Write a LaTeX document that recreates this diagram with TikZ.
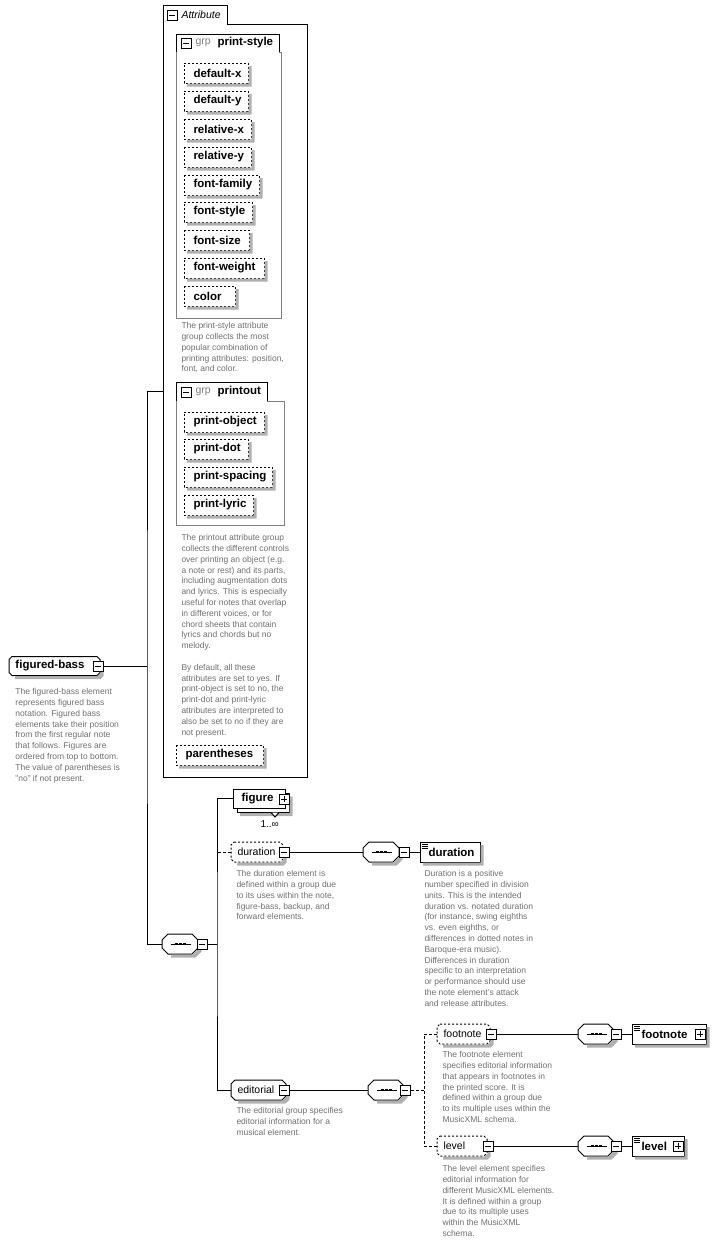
\documentclass[tikz,border=0pt]{standalone}
\usepackage{fontspec}
\setmainfont{Liberation Sans}
\definecolor{descgray}{RGB}{112,112,112}
\definecolor{shgray}{RGB}{176,176,176}
\definecolor{grpgray}{RGB}{128,128,128}
\newcommand\lbf{\bfseries\fontsize{11.5}{13}\selectfont}
\newcommand\lrm{\fontsize{10.5}{12}\selectfont}
\newcommand\dsc{\fontsize{8.5}{10.8}\selectfont}
% outline with cut corners: #1 options, #2 left x, #3 top y, #4 width, #5 height, #6 cut
\newcommand\oct[6]{%
  \path[#1] (#2+#6,#3) -- (#2+#4-#6,#3) -- (#2+#4,#3+#6) -- (#2+#4,#3+#5-#6)
    -- (#2+#4-#6,#3+#5) -- (#2+#6,#3+#5) -- (#2,#3+#5-#6) -- (#2,#3+#6) -- cycle;}
% shadow band outside the right and lower sides: #1 left x, #2 top y, #3 width, #4 height, #5 cut
\newcommand\shd[5]{%
  \fill[shgray] (#1+#3+0.5,#2+3+#5) -- (#1+#3+3.5,#2+3+#5) -- (#1+#3+3.5,#2+#4+3.5-#5)
    -- (#1+#3+3.5-#5,#2+#4+3.5) -- (#1+3+#5,#2+#4+3.5) -- (#1+3+#5,#2+#4+0.5)
    -- (#1+#3+0.5-#5,#2+#4+0.5) -- (#1+#3+0.5,#2+#4+0.5-#5) -- cycle;}
% #1 name, #2 left x, #3 centre y, #4 width, #5 height, #6 cut, #7 extra options, #8 shadow y/n
\newcommand\mkbox[8]{%
  \oct{draw,fill=white,#7}{#2}{#3-#5/2}{#4}{#5}{#6}
  \ifx#8y\shd{#2}{#3-#5/2}{#4}{#5}{#6}\fi
  \node[box,minimum width=#4pt,minimum height=#5pt] (#1) at (#2,#3) {};}
% sequence symbol inside a named node
\newcommand\seqsym[1]{%
  \draw[line width=.9pt] ([xshift=-10pt]#1.center) -- ([xshift=10pt]#1.center);
  \foreach \dx in {-4,0,4} \fill ([xshift=\dx pt-1.3pt,yshift=-1.3pt]#1.center) rectangle ([xshift=\dx pt+1.3pt,yshift=1.3pt]#1.center);}
% element icon
\newcommand\elic[1]{%
  \foreach \k in {2.5,4.5,6.5} \draw[line width=.7pt] ([xshift=2pt,yshift=-\k pt]#1.north west) -- ([xshift=8pt,yshift=-\k pt]#1.north west);}
\tikzset{
  box/.style={rectangle,inner sep=0pt,minimum height=20pt,anchor=west},
  pm/.style={rectangle,draw,solid,fill=white,minimum size=10pt,inner sep=0pt},
  minus/.style={pm,path picture={\draw[line width=.9pt] ([xshift=2pt]path picture bounding box.west) -- ([xshift=-2pt]path picture bounding box.east);}},
  plus/.style={pm,path picture={\draw[line width=.9pt] ([xshift=2pt]path picture bounding box.west) -- ([xshift=-2pt]path picture bounding box.east);
      \draw[line width=.9pt] ([yshift=2pt]path picture bounding box.south) -- ([yshift=-2pt]path picture bounding box.north);}},
  lbl/.style={font=\lbf,inner sep=0pt,anchor=west},
  lbr/.style={font=\lrm,inner sep=0pt,anchor=west},
  desc/.style={font=\dsc,text=descgray,inner sep=0pt,anchor=north west,align=left},
  dsh/.style={dash pattern=on 3pt off 2pt},
  adsh/.style={dash pattern=on 2pt off 2pt}
}
\begin{document}
\begin{tikzpicture}[x=1pt,y=-1pt,line width=1pt]
\useasboundingbox (0,0) rectangle (714,1245);
\fill[white] (0,0) rectangle (714,1245);

% ---------- Attribute container ----------
\draw (227,24) -- (307,24) -- (307,777) -- (163,777) -- (163,5) -- (227,5) -- (227,24);
\node[minus] (attrm) at (172,15) {};
\node[lbr,font=\lrm\itshape] (attrt) at (181,15) {Attribute};

% print-style group
\draw (176,52) -- (176,34) -- (279,34) -- (279,52);
\draw[grpgray] (279,52) -- (281,52) -- (281,318) -- (176,318) -- (176,52);
\node[minus] (psm) at (186,43) {};
\node[lbr,text=grpgray] (psg) at (195,43) {grp};
\node[lbl] (pst) at (217,43) {print-style};
\foreach \n/\t/\y/\w in {dx/default-x/73/64, dy/default-y/101/64, rx/relative-x/129/67, ry/relative-y/157/67,
  ff/font-family/185/75, fs/font-style/212/68, fz/font-size/240/65, fw/font-weight/268/80, co/color/296/51}{
  \mkbox{\n}{184}{\y}{\w}{20}{0}{adsh}{y}
  \node[lbl] (\n-t) at (193,\y) {\t};
}
\node[desc] (psd) at (181,322) {The print-style attribute\\group collects the most\\popular combination of\\printing attributes: position,\\font, and color.};

% printout group
\draw (176,401) -- (176,382) -- (267,382) -- (267,401);
\draw[grpgray] (267,401) -- (284,401) -- (284,525) -- (176,525) -- (176,401);
\node[minus] (pom) at (186,392) {};
\node[lbr,text=grpgray] (pog) at (195,392) {grp};
\node[lbl] (pot) at (217,392) {printout};
\foreach \n/\t/\y/\w in {pob/print-object/422/80, pdt/print-dot/449/64, psp/print-spacing/477/88, ply/print-lyric/505/69}{
  \mkbox{\n}{184}{\y}{\w}{20}{0}{adsh}{y}
  \node[lbl] (\n-t) at (193,\y) {\t};
}
\node[desc] (pod) at (181,534) {The printout attribute group\\collects the different controls\\over printing an object (e.g.\\a note or rest) and its parts,\\including augmentation dots\\and lyrics. This is especially\\useful for notes that overlap\\in different voices, or for\\chord sheets that contain\\lyrics and chords but no\\melody.\\\mbox{}\\By default, all these\\attributes are set to yes. If\\print-object is set to no, the\\print-dot and print-lyric\\attributes are interpreted to\\also be set to no if they are\\not present.};
\mkbox{par}{176}{755}{87}{20}{0}{adsh}{y}
\node[lbl] (par-t) at (185,755) {parentheses};

% ---------- figured-bass ----------
\mkbox{fb}{9}{666}{91}{19}{3}{}{y}
\node[lbl] (fbt) at (15,666) {figured-bass};
\node[minus] (fbm) at (98,666) {};
\node[desc] (fbd) at (15,688) {The figured-bass element\\represents figured bass\\notation. Figured bass\\elements take their position\\from the first regular note\\that follows. Figures are\\ordered from top to bottom.\\The value of parentheses is\\"no" if not present.};

% sequence 1
\mkbox{s1}{162}{944}{36}{20}{6}{}{y}
\seqsym{s1}
\node[minus] (s1m) at (202,944) {};

\coordinate (attrw) at (163,391);
\coordinate (tr) at (147,666);
\draw (fbm.east) -- (tr);
\draw (attrw) -| (tr) |- (s1.west);

% figure
\mkbox{figb}{237}{803}{52}{19}{0}{}{y}
\mkbox{fig}{233}{798.5}{52}{19}{0}{}{n}
\node[lbl] (figt) at (241,798.5) {figure};
\node[plus] (figp) at (284,799) {};
\draw[fill=white] (271,812.5) -- (275,817) -- (279,812.5);
\node[lbr,font=\fontsize{10}{12}\selectfont] (figo) at (260,824) {1..∞};

% duration (optional)
\mkbox{dur}{231}{852}{52}{20}{3}{adsh}{y}
\node[lbr] (durt) at (237,852) {duration};
\node[minus] (durm) at (284,852) {};
\node[desc] (durd) at (236,870) {The duration element is\\defined within a group due\\to its uses within the note,\\figure-bass, backup, and\\forward elements.};

\mkbox{s2}{363}{852}{36}{20}{6}{}{y}
\seqsym{s2}
\node[minus] (s2m) at (404,852) {};
\mkbox{durel}{420}{852}{60}{20}{0}{}{y}
\elic{durel}
\node[lbl] (durelt) at (428,852) {duration};
\node[desc] (dureld) at (424,870) {Duration is a positive\\number specified in division\\units. This is the intended\\duration vs. notated duration\\(for instance, swing eighths\\vs. even eighths, or\\differences in dotted notes in\\Baroque-era music).\\Differences in duration\\specific to an interpretation\\or performance should use\\the note element's attack\\and release attributes.};
\draw (durm.east) -- (s2.west);
\draw (s2m.east) -- (durel.west);

% editorial
\mkbox{ed}{231}{1090}{55}{20}{4}{}{y}
\node[lbr] (edt) at (237,1090) {editorial};
\node[minus] (edm) at (284,1090) {};
\node[desc] (edd) at (236,1107) {The editorial group specifies\\editorial information for a\\musical element.};

\coordinate (tr2) at (217,944);
\draw (s1m.east) -- (tr2);
\draw (fig.west) -| (tr2) |- (ed.west);
\draw[dsh] (dur.west) -- (dur.west -| tr2);

\mkbox{s3}{368}{1090}{36}{20}{6}{}{y}
\seqsym{s3}
\node[minus] (s3m) at (405,1090) {};
\draw (edm.east) -- (s3.west);

% footnote
\mkbox{fn}{437}{1034}{53}{20}{3}{adsh}{y}
\node[lbr] (fnt) at (443,1034) {footnote};
\node[minus] (fnm) at (491,1034) {};
\node[desc] (fnd) at (442,1051) {The footnote element\\specifies editorial information\\that appears in footnotes in\\the printed score. It is\\defined within a group due\\to its multiple uses within the\\MusicXML schema.};
\mkbox{s4}{578}{1034}{36}{20}{6}{}{y}
\seqsym{s4}
\node[minus] (s4m) at (616,1034) {};
\mkbox{fnel}{632}{1034}{74}{20}{0}{}{y}
\elic{fnel}
\node[lbl] (fnelt) at (641,1034) {footnote};
\node[plus] (fnelp) at (700,1034) {};
\draw (fnm.east) -- (s4.west);
\draw (s4m.east) -- (fnel.west);

% level
\mkbox{lv}{437}{1146}{50}{20}{3}{adsh}{y}
\node[lbr] (lvt) at (443,1146) {level};
\node[minus] (lvm) at (488,1146) {};
\node[desc] (lvd) at (442,1165) {The level element specifies\\editorial information for\\different MusicXML elements.\\It is defined within a group\\due to its multiple uses\\within the MusicXML\\schema.};
\mkbox{s5}{578}{1146}{36}{20}{6}{}{y}
\seqsym{s5}
\node[minus] (s5m) at (616,1146) {};
\mkbox{lvel}{632}{1146}{52}{20}{0}{}{y}
\elic{lvel}
\node[lbl] (lvelt) at (641,1146) {level};
\node[plus] (lvelp) at (678,1146) {};
\draw (lvm.east) -- (s5.west);
\draw (s5m.east) -- (lvel.west);

\coordinate (tr3) at (424,1090);
\draw[dsh] (s3m.east) -- (tr3);
\draw[dsh] (fn.west) -| (tr3);
\draw[dsh] (lv.west) -| (tr3);
\end{tikzpicture}
\end{document}
